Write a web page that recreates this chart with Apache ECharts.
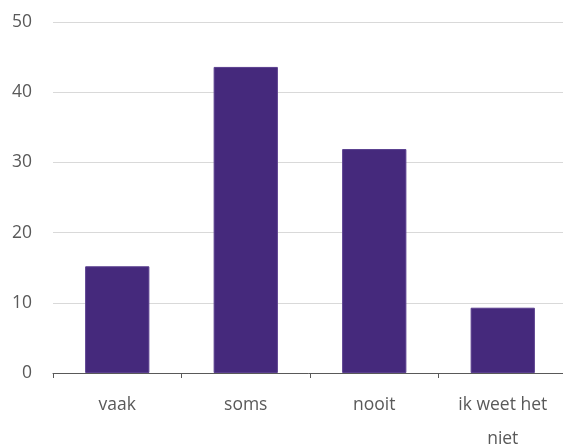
<!DOCTYPE html>
<html>
<head>
<meta charset="utf-8">
<script src="https://cdn.jsdelivr.net/npm/echarts@6/dist/echarts.min.js"></script>
<style>
  html, body { margin: 0; padding: 0; background: #fff; }
  #chart { width: 563px; height: 445px; }
</style>
</head>
<body>
<div id="chart"></div>
<script>
// Answer categories and their percentages
const categories = ['vaak', 'soms', 'nooit', 'ik weet het\nniet'];
const values = [15.2, 43.6, 31.9, 9.3];
const yTicks = { min: 0, max: 50, interval: 10 };

const chart = echarts.init(document.getElementById('chart'), null, { renderer: 'canvas' });

const textStyle = {
  color: '#595959',
  fontFamily: '"Open Sans", "Noto Sans", sans-serif',
  fontSize: 17.5
};

chart.setOption({
  animation: false,
  grid: { left: 53, top: 22, width: 514, height: 351, containLabel: false, outerBoundsMode: 'none' },
  xAxis: {
    type: 'category',
    data: categories,
    axisLine: { lineStyle: { color: '#595959', width: 1 } },
    axisTick: { show: true, length: 5, lineStyle: { color: '#595959' } },
    axisLabel: Object.assign({ margin: 15, lineHeight: 34, interval: 0 }, textStyle)
  },
  yAxis: {
    type: 'value',
    min: yTicks.min,
    max: yTicks.max,
    interval: yTicks.interval,
    axisLine: { show: false },
    axisTick: { show: false },
    splitLine: { lineStyle: { color: '#d9d9d9', width: 1 } },
    axisLabel: Object.assign({ margin: 21 }, textStyle)
  },
  series: [{
    type: 'bar',
    data: values,
    barWidth: '50%',
    itemStyle: { color: '#45297c', borderColor: '#5a3f8f', borderWidth: 1 }
  }]
});
</script>
</body>
</html>
